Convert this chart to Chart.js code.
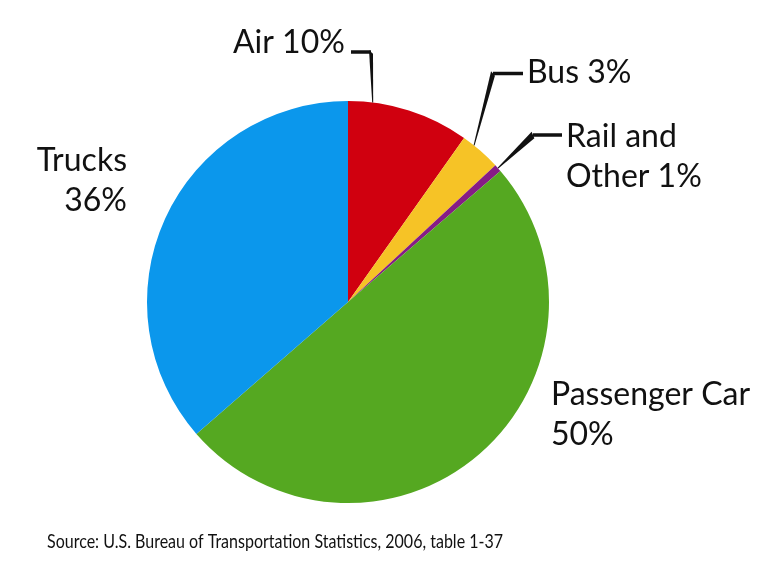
<!DOCTYPE html>
<html>
<head>
<meta charset="utf-8">
<script src="https://cdn.jsdelivr.net/npm/chart.js@4"></script>
<style>
  html, body { margin: 0; padding: 0; background: #fff; }
  #wrap { width: 759px; height: 571px; }
</style>
</head>
<body>
<div id="wrap"><canvas id="pieChart" width="759" height="571"></canvas></div>
<script>
// datos (porcentaje de cada modo)
const categorias = ['Air', 'Bus', 'Rail and Other', 'Passenger Car', 'Trucks'];
const valores = [9.8, 3.3, 0.6, 49.9, 36.4];
const etiquetasPct = ['10%', '3%', '1%', '50%', '36%'];
const colores = ['#D0000F', '#F6C326', '#861C86', '#55A821', '#0B97EC'];
const fuente = 'Source: U.S. Bureau of Transportation Statistics, 2006, table 1-37';

const FONT = "32px Lato, 'Open Sans', sans-serif";

// posicion de cada etiqueta y de su linea guia
const etiquetas = [
  { i: 0, lineas: ['Air 10%'], x: 233, y: 53, align: 'left', barra: [351, 52, 371], frac: 0.2 },
  { i: 1, lineas: ['Bus 3%'], x: 527, y: 83, align: 'left', barra: [523, 73.5, 493], frac: 0.3 },
  { i: 2, lineas: ['Rail and', 'Other 1%'], x: 566, y: 147, align: 'left', barra: [562, 135, 533], frac: 0.5 },
  { i: 4, lineas: ['Trucks', '36%'], x: 127, y: 171, align: 'right' },
  { i: 3, lineas: ['Passenger Car', '50%'], x: 551, y: 405, align: 'left' }
];

const pluginEtiquetas = {
  id: 'etiquetas',
  afterDraw(chart) {
    const ctx = chart.ctx;
    const arcos = chart.getDatasetMeta(0).data;
    ctx.save();
    ctx.fillStyle = '#111';
    ctx.strokeStyle = '#111';
    ctx.font = FONT;
    ctx.textBaseline = 'alphabetic';

    etiquetas.forEach(e => {
      ctx.textAlign = e.align;
      e.lineas.forEach((t, k) => ctx.fillText(t, e.x, e.y + k * 40));

      if (e.barra) {
        const arco = arcos[e.i];
        const ang = arco.startAngle + (arco.endAngle - arco.startAngle) * e.frac;
        const px = arco.x + Math.cos(ang) * arco.outerRadius;
        const py = arco.y + Math.sin(ang) * arco.outerRadius;
        const [x1, yb, x2] = e.barra;

        // tramo horizontal
        ctx.lineWidth = 3.5;
        ctx.beginPath();
        ctx.moveTo(x1, yb);
        ctx.lineTo(x2, yb);
        ctx.stroke();

        // tramo afilado hacia el pastel
        const dx = px - x2, dy = py - yb;
        const len = Math.hypot(dx, dy);
        const nx = -dy / len, ny = dx / len;
        const w0 = 2, w1 = 0.5;
        ctx.beginPath();
        ctx.moveTo(x2 + nx * w0, yb - 1.75 + ny * w0);
        ctx.lineTo(px + nx * w1, py + ny * w1);
        ctx.lineTo(px - nx * w1, py - ny * w1);
        ctx.lineTo(x2 - nx * w0, yb + 1.75 - ny * w0);
        ctx.closePath();
        ctx.fill();
      }
    });

    // fuente, ajustada al ancho del original
    ctx.font = "20px Lato, 'Open Sans', sans-serif";
    ctx.textAlign = 'left';
    ctx.fillStyle = '#111';
    const ancho = ctx.measureText(fuente).width;
    const escala = 456 / ancho;
    ctx.translate(47, 548);
    ctx.scale(escala, 1);
    ctx.fillText(fuente, 0, 0);
    ctx.restore();
  }
};

new Chart(document.getElementById('pieChart').getContext('2d'), {
  type: 'pie',
  data: {
    labels: categorias,
    datasets: [{
      data: valores,
      backgroundColor: colores,
      borderWidth: 0
    }]
  },
  options: {
    responsive: false,
    animation: false,
    devicePixelRatio: 1,
    layout: { padding: { left: 147, right: 210, top: 101, bottom: 68 } },
    plugins: {
      legend: { display: false },
      tooltip: { enabled: false }
    }
  },
  plugins: [pluginEtiquetas]
});
</script>
</body>
</html>
